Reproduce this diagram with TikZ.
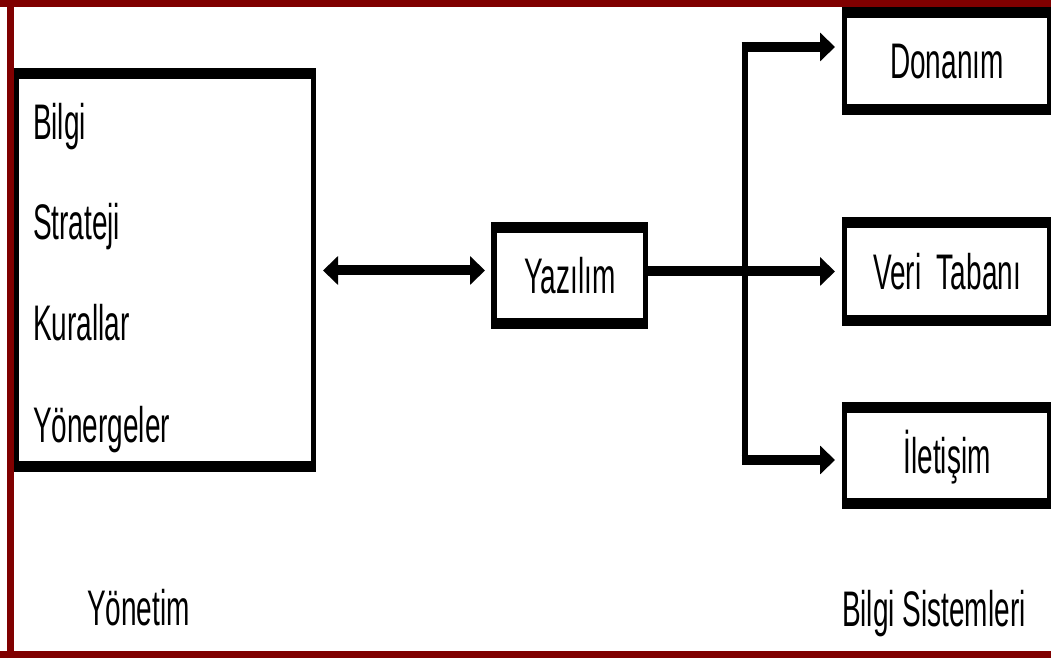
\documentclass[tikz,border=0pt]{standalone}
\usepackage{fontspec}
\setmainfont{Liberation Sans}
\newfontfamily\tallsans[FakeStretch=0.56]{Liberation Sans}
\usetikzlibrary{positioning,arrows.meta}
\definecolor{frame}{HTML}{800000}
\tikzset{
  box/.style    = {draw=black, fill=white, line width=5.5pt, inner sep=0pt, outer sep=0pt,
                   font=\tallsans\fontsize{50}{56}\selectfont, text height=35.8pt, text depth=0pt},
  edgeh/.style  = {draw=black, line width=11pt, shorten <=-2.75pt, shorten >=-2.75pt},
  item/.style   = {font=\tallsans\fontsize{50}{56}\selectfont, anchor=base west, inner sep=0pt, outer sep=0pt},
  link/.style   = {-{Triangle[length=15pt,width=28pt]}, line width=10pt, shorten >=9.5pt},
  dlink/.style  = {{Triangle[length=15pt,width=28pt]}-{Triangle[length=15pt,width=28pt]}, line width=10pt,
                   shorten <=9.5pt, shorten >=9pt},
  trunk/.style  = {line width=6pt},
  rim/.style    = {draw=frame, line width=7pt},
}
\begin{document}
\begin{tikzpicture}[x=1pt,y=1pt]
\path[use as bounding box] (0,0) rectangle (1051,658);

% frame, cut off on the right
\draw[rim] (0,654.5) -- (1051,654.5);
\draw[rim] (0,3.5) -- (1051,3.5);
\draw[rim] (10.5,0) -- (10.5,658);

% ---- management side ----
\node[box, minimum width=297pt, minimum height=393pt] (mgmt) at (165,387.5) {};
\foreach \t/\yy [count=\i] in {Bilgi/518, Strateji/418, Kurallar/317, Yönergeler/215}
  \node[item] (mgmt\i) at (33,\yy) {\t};

% ---- software in the middle ----
\node[box, minimum width=151.5pt, minimum height=96pt] (sw) at (569.75,382.5) {Yazılım};

% ---- information systems ----
\node[box, minimum width=205pt, minimum height=96.5pt] (hw)   at (947,597)   {Donanım};
\node[box, minimum width=205pt, minimum height=98pt]   (db)   at (947,386.5) {Veri\ \ Tabanı};
\node[box, minimum width=205pt, minimum height=96pt]   (comm) at (947,202)   {İletişim};

% heavier top and bottom edges
\foreach \b in {mgmt,sw,hw,db,comm} {
  \draw[edgeh] (\b.north west) -- (\b.north east);
  \draw[edgeh] (\b.south west) -- (\b.south east);
}

% connectors
\draw[dlink] (mgmt.east) -- (mgmt.east -| sw.west);
\draw[link] (sw.east |- db.west) -- (db.west);

\coordinate (ttop) at (744.5,611);
\coordinate (tbot) at (744.5,198);
\draw[trunk] ([yshift=5pt]ttop) -- ([yshift=-5pt]tbot);
\draw[link] ([xshift=-3pt]ttop) -- (ttop -| hw.west);
\draw[link] ([xshift=-3pt]tbot) -- (tbot -| comm.west);

% captions
\node[item] (mgmtlab) at (87,33)  {Yönetim};
\node[item] (islab)   at (842,31) {Bilgi Sistemleri};

\end{tikzpicture}
\end{document}
